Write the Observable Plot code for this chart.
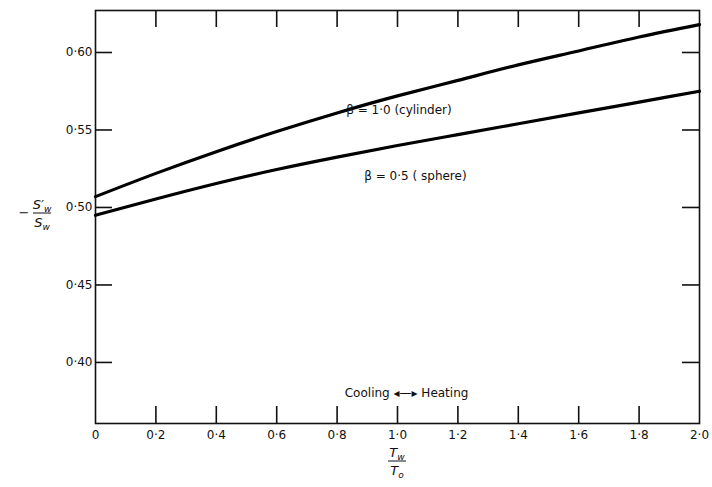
<!DOCTYPE html>
<html>
<head>
<meta charset="utf-8">
<script src="https://cdn.jsdelivr.net/npm/d3@7"></script>
<script src="https://cdn.jsdelivr.net/npm/@observablehq/plot@0.6"></script>
<style>
  html, body { margin: 0; padding: 0; background: #fff; }
  svg { display: block; }
</style>
</head>
<body>
<div id="chart"></div>
<script>
// Tw/T0 values
const xValues = [0, 0.2, 0.4, 0.6, 0.8, 1.0, 1.2, 1.4, 1.6, 1.8, 2.0];
// -S'w/Sw for beta = 1.0 (cylinder)
const cylinder = [0.507, 0.522, 0.536, 0.549, 0.561, 0.572, 0.582, 0.592, 0.601, 0.610, 0.618];
// -S'w/Sw for beta = 0.5 (sphere)
const sphere = [0.495, 0.5055, 0.5155, 0.5245, 0.5325, 0.540, 0.547, 0.554, 0.561, 0.568, 0.575];
const xTicks = [0, 0.2, 0.4, 0.6, 0.8, 1.0, 1.2, 1.4, 1.6, 1.8, 2.0];
const yTicks = [0.40, 0.45, 0.50, 0.55, 0.60];
const xInnerTicks = [0.2, 0.4, 0.6, 0.8, 1.0, 1.2, 1.4, 1.6, 1.8];
const annotations = [
  {x: 0.83, y: 0.5625, text: "β = 1·0 (cylinder)"},
  {x: 0.89, y: 0.5205, text: "β = 0·5 ( sphere)"},
];
const directionLabel = [{x: 1.03, y: 0.380, text: "Cooling ◂—▸ Heating"}];

const W = 712, H = 487;
const mL = 95, mR = 13, mT = 10, mB = 64;
const innerW = W - mL - mR, innerH = H - mT - mB;
const xDomain = [0, 2];
const yDomain = [0.3606, 0.6271];
// inward tick length in pixels, converted to data units
const tickPx = 17;
const dyTick = tickPx * (yDomain[1] - yDomain[0]) / innerH;
const dxTick = tickPx * (xDomain[1] - xDomain[0]) / innerW;

const rows = [];
xValues.forEach((x, i) => {
  rows.push({x, y: cylinder[i], series: "cylinder"});
  rows.push({x, y: sphere[i], series: "sphere"});
});

const fmt = d => d3.format(".2f")(d).replace(".", "·");
const fmtX = d => d === 0 ? "0" : d3.format(".1f")(d).replace(".", "·");

const font = "DejaVu Sans, sans-serif";
const tickStyle = {stroke: "#111", strokeWidth: 1.6};

const chart = Plot.plot({
  width: W,
  height: H,
  marginLeft: mL,
  marginRight: mR,
  marginTop: mT,
  marginBottom: mB,
  style: {fontFamily: font, fontSize: "12px", color: "#111", background: "#fff"},
  x: {domain: xDomain},
  y: {domain: yDomain},
  marks: [
    Plot.axisX(xTicks, {anchor: "bottom", tickSize: 0, tickPadding: 7, tickFormat: fmtX, fontSize: 12, label: null}),
    Plot.axisY(yTicks, {anchor: "left", tickSize: 0, tickPadding: 3, tickFormat: fmt, fontSize: 12, label: null}),
    // inward ticks: bottom, top, left, right
    Plot.ruleX(xInnerTicks, {x: d => d, y1: yDomain[0], y2: yDomain[0] + dyTick, ...tickStyle}),
    Plot.ruleX(xInnerTicks, {x: d => d, y1: yDomain[1], y2: yDomain[1] - dyTick, ...tickStyle}),
    Plot.ruleY(yTicks, {y: d => d, x1: xDomain[0], x2: xDomain[0] + dxTick, ...tickStyle}),
    Plot.ruleY(yTicks, {y: d => d, x1: xDomain[1], x2: xDomain[1] - dxTick, ...tickStyle}),
    Plot.frame({stroke: "#111", strokeWidth: 1.6}),
    Plot.line(rows, {x: "x", y: "y", z: "series", curve: "natural", stroke: "#000", strokeWidth: 3.2}),
    Plot.text(annotations, {x: "x", y: "y", text: "text", textAnchor: "start", fontSize: 12, fill: "#111"}),
    Plot.text(directionLabel, {x: "x", y: "y", text: "text", textAnchor: "middle", fontSize: 12, fill: "#111"})
  ]
});

document.getElementById("chart").appendChild(chart);

// Fraction-style axis titles
const svg = d3.select(chart);
function fraction(cx, cy, numParts, denParts, barW, minus) {
  const g = svg.append("g").attr("font-family", font).attr("fill", "#111");
  if (minus) {
    g.append("text").attr("x", cx - barW / 2 - 9).attr("y", cy + 4)
      .attr("font-size", 13).attr("text-anchor", "middle").text("−");
  }
  const num = g.append("text").attr("x", cx).attr("y", cy - 4)
    .attr("text-anchor", "middle").attr("font-size", 13).attr("font-style", "italic");
  numParts.forEach(p => {
    num.append("tspan").attr("font-size", p.size || 13).attr("dy", p.dy || 0).text(p.t);
  });
  g.append("line").attr("x1", cx - barW / 2).attr("x2", cx + barW / 2)
    .attr("y1", cy).attr("y2", cy).attr("stroke", "#111").attr("stroke-width", 1);
  const den = g.append("text").attr("x", cx).attr("y", cy + 14)
    .attr("text-anchor", "middle").attr("font-size", 13).attr("font-style", "italic");
  denParts.forEach(p => {
    den.append("tspan").attr("font-size", p.size || 13).attr("dy", p.dy || 0).text(p.t);
  });
}
fraction(42, 213,
  [{t: "S′"}, {t: "w", size: 9, dy: 3}],
  [{t: "S"}, {t: "w", size: 9, dy: 3}], 18, true);
fraction(397, 461,
  [{t: "T"}, {t: "w", size: 9, dy: 3}],
  [{t: "T"}, {t: "o", size: 9, dy: 3}], 18, false);
</script>
</body>
</html>
